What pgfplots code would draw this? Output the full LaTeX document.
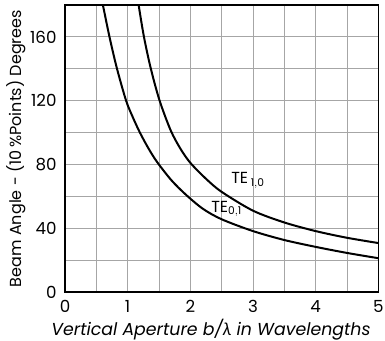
\documentclass[border=0pt]{standalone}
\usepackage{fontspec}
\setmainfont{Poppins}
\newfontfamily\grk{Lato}
\usepackage{pgfplots}
\pgfplotsset{compat=1.18}
\begin{document}
\fontsize{12.5}{14}\selectfont
\begin{tikzpicture}
\begin{axis}[
    scale only axis,
    width=235pt, height=215.25pt,
    xmin=0, xmax=5, ymin=0, ymax=180,
    xtick={0,1,2,3,4,5},
    ytick={0,40,80,120,160},
    minor xtick={0.5,1.5,2.5,3.5,4.5},
    minor ytick={20,60,100,140},
    grid=both,
    grid style={gray!70, line width=0.6pt},
    minor grid style={gray!70, line width=0.6pt},
    major tick length=0pt, minor tick length=0pt,
    axis line style={line width=1.1pt},
    /pgf/number format/assume math mode=true,
    tick label style={font=\fontsize{12.5}{14}\selectfont},
    xticklabel style={yshift=-2pt},
    yticklabel style={xshift=-2pt},
    xlabel={\itshape Vertical Aperture b/{\grk λ} in Wavelengths},
    ylabel={Beam Angle - (10\,\%Points) Degrees},
    xlabel style={font=\fontsize{13}{14}\selectfont, yshift=4pt, xshift=-8pt},
    ylabel style={font=\fontsize{12}{14}\selectfont, yshift=-5pt},
]
% TE 0,1
\addplot[black, line width=1.5pt, smooth, tension=0.5] coordinates {
(0.605,180) (0.71,160) (0.83,140) (0.975,120) (1.08,109.8) (1.195,100) (1.33,90.2)
(1.47,81.5) (1.70,70) (1.93,61) (2.20,52.2) (2.50,45.6) (3.00,38.2) (3.50,32.6)
(4.00,28.3) (4.50,24.5) (5.00,21.2)
};
% TE 1,0
\addplot[black, line width=1.5pt, smooth, tension=0.5] coordinates {
(1.175,180) (1.26,160) (1.37,140) (1.51,120) (1.685,101.5) (1.84,90) (2.00,81)
(2.25,71) (2.50,62.8) (3.00,51) (3.50,43.6) (4.00,38.2) (4.50,34) (5.00,30.7)
};
\node[font=\fontsize{12}{14}\selectfont] at (axis cs:2.92,70) {TE\,$_{\mathrm{1,0}}$};
\node[font=\fontsize{12}{14}\selectfont] at (axis cs:2.58,52) {TE$_{\mathrm{0,1}}$};
\end{axis}
\pgfresetboundingbox
\useasboundingbox (current axis.south west) ++(-48.75pt,-36.75pt) rectangle ++(288.75pt,255.75pt);
\end{tikzpicture}
\end{document}
